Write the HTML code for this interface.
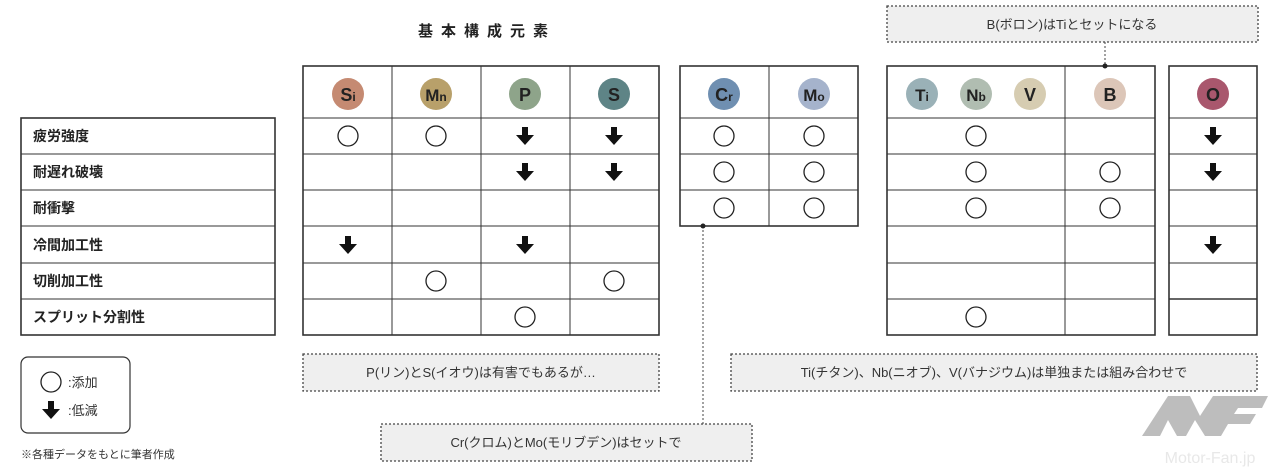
<!DOCTYPE html>
<html><head><meta charset="utf-8"><style>
html,body{margin:0;padding:0;background:#fff;}
svg{display:block;}
text{font-family:"Liberation Sans","Noto Sans CJK JP",sans-serif;}
</style></head><body>
<svg width="1279" height="473" viewBox="0 0 1279 473" xmlns="http://www.w3.org/2000/svg">
<defs>
<g id="ar"><path d="M-3,-9 H3 V-1 H9 L0,9 L-9,-1 H-3 Z" fill="#111"/></g>
<g id="ci"><circle r="10" fill="none" stroke="#222" stroke-width="1.3"/></g>
</defs>
<text x="487" y="36" text-anchor="middle" font-size="15" font-weight="bold" letter-spacing="8" fill="#222">基本構成元素</text>

<!-- left labels -->
<g stroke="#333" fill="none">
<rect x="21" y="118" width="254" height="217" stroke-width="1.6"/>
<path d="M21 154H275M21 190H275M21 226H275M21 263H275M21 299H275" stroke-width="1"/>
</g>
<g font-size="14" font-weight="bold" fill="#222">
<text x="33" y="141">疲労強度</text>
<text x="33" y="177">耐遅れ破壊</text>
<text x="33" y="213">耐衝撃</text>
<text x="33" y="250">冷間加工性</text>
<text x="33" y="286">切削加工性</text>
<text x="33" y="322">スプリット分割性</text>
</g>

<!-- table1 -->
<g stroke="#333" fill="none">
<rect x="303" y="66" width="356" height="269" stroke-width="1.6"/>
<path d="M303 118H659M303 154H659M303 190H659M303 226H659M303 263H659M303 299H659M392 66V335M481 66V335M570 66V335" stroke-width="1"/>
<rect x="680" y="66" width="178" height="160" stroke-width="1.6"/>
<path d="M680 118H858M680 154H858M680 190H858M769 66V226" stroke-width="1"/>
<rect x="887" y="66" width="268" height="269" stroke-width="1.6"/>
<path d="M887 118H1155M887 154H1155M887 190H1155M887 226H1155M887 263H1155M887 299H1155M1065 66V335" stroke-width="1"/>
<rect x="1169" y="66" width="88" height="269" stroke-width="1.6"/>
<path d="M1169 118H1257M1169 154H1257M1169 190H1257M1169 226H1257M1169 263H1257" stroke-width="1"/>
<path d="M1169 299H1257" stroke-width="1.6"/>
</g>

<!-- element circles -->
<g font-weight="bold" fill="#222" text-anchor="middle">
<circle cx="348" cy="94" r="16" fill="#c58a72"/><text x="348" y="101" font-size="18">S<tspan font-size="12">i</tspan></text>
<circle cx="436" cy="94" r="16" fill="#b8a06a"/><text x="436" y="101" font-size="17">M<tspan font-size="12">n</tspan></text>
<circle cx="525" cy="94" r="16" fill="#8ea48a"/><text x="525" y="101" font-size="18">P</text>
<circle cx="614" cy="94" r="16" fill="#5e8486"/><text x="614" y="101" font-size="18">S</text>
<circle cx="724" cy="94" r="16" fill="#6f8fb1"/><text x="724" y="101" font-size="18">C<tspan font-size="12">r</tspan></text>
<circle cx="814" cy="94" r="16" fill="#a5b3cc"/><text x="814" y="101" font-size="17">M<tspan font-size="12">o</tspan></text>
<circle cx="922" cy="94" r="16" fill="#9ab1b7"/><text x="922" y="101" font-size="17">T<tspan font-size="12">i</tspan></text>
<circle cx="976" cy="94" r="16" fill="#b0bdb1"/><text x="976" y="101" font-size="17">N<tspan font-size="12">b</tspan></text>
<circle cx="1030" cy="94" r="16" fill="#d6ccb1"/><text x="1030" y="101" font-size="18">V</text>
<circle cx="1110" cy="94" r="16" fill="#dcc6b8"/><text x="1110" y="101" font-size="18">B</text>
<circle cx="1213" cy="94" r="16" fill="#a9576d"/><text x="1213" y="101" font-size="18">O</text>
</g>

<!-- marks -->
<use href="#ci" x="348" y="136"/><use href="#ci" x="436" y="136"/>
<use href="#ar" x="525" y="136"/><use href="#ar" x="614" y="136"/>
<use href="#ar" x="525" y="172"/><use href="#ar" x="614" y="172"/>
<use href="#ar" x="348" y="245"/><use href="#ar" x="525" y="245"/>
<use href="#ci" x="436" y="281"/><use href="#ci" x="614" y="281"/>
<use href="#ci" x="525" y="317"/>
<use href="#ci" x="724" y="136"/><use href="#ci" x="814" y="136"/>
<use href="#ci" x="724" y="172"/><use href="#ci" x="814" y="172"/>
<use href="#ci" x="724" y="208"/><use href="#ci" x="814" y="208"/>
<use href="#ci" x="976" y="136"/>
<use href="#ci" x="976" y="172"/><use href="#ci" x="1110" y="172"/>
<use href="#ci" x="976" y="208"/><use href="#ci" x="1110" y="208"/>
<use href="#ci" x="976" y="317"/>
<use href="#ar" x="1213" y="136"/><use href="#ar" x="1213" y="172"/><use href="#ar" x="1213" y="245"/>

<!-- notes -->
<g fill="#efefef" stroke="#444" stroke-width="1.3" stroke-dasharray="2,2">
<rect x="887" y="6" width="371" height="36"/>
<rect x="303" y="354" width="356" height="37"/>
<rect x="731" y="354" width="526" height="37"/>
<rect x="381" y="424" width="371" height="37"/>
</g>
<g stroke="#444" stroke-width="1" stroke-dasharray="2,2">
<path d="M1105 42V66"/><path d="M703 226V424"/>
</g>
<circle cx="1105" cy="66" r="2.5" fill="#222"/>
<circle cx="703" cy="226" r="2.5" fill="#222"/>
<g font-size="13" fill="#333" text-anchor="middle">
<text x="1072" y="29">B(ボロン)はTiとセットになる</text>
<text x="481" y="377">P(リン)とS(イオウ)は有害でもあるが…</text>
<text x="994" y="377">Ti(チタン)、Nb(ニオブ)、V(バナジウム)は単独または組み合わせで</text>
<text x="566" y="447">Cr(クロム)とMo(モリブデン)はセットで</text>
</g>

<!-- legend -->
<rect x="21" y="357" width="109" height="76" rx="7" fill="none" stroke="#333" stroke-width="1.2"/>
<use href="#ci" x="51" y="382"/>
<use href="#ar" x="51" y="410"/>
<g font-size="13" fill="#333"><text x="68" y="387">:添加</text><text x="68" y="415">:低減</text></g>
<text x="21" y="458" font-size="11" fill="#333">※各種データをもとに筆者作成</text>

<!-- logo -->
<g fill="#bdbdbd">
<path d="M1142 436 L1168 396 L1190 396 L1200 416 L1213 396 L1268 396 L1262 408 L1238 408 L1234 414 L1256 414 L1250 424 L1228 424 L1221 436 L1205 436 L1195 420 L1186 436 L1177 436 L1168 420 L1160 436 Z"/>
</g>
<text x="1210" y="463" font-size="16" fill="#e8e8e8" text-anchor="middle">Motor-Fan.jp</text>
</svg>
</body></html>
